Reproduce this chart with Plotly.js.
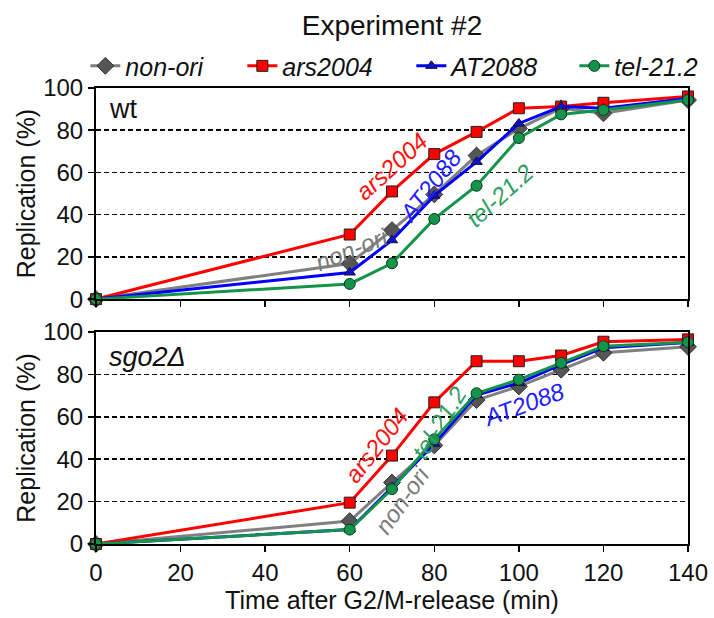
<!DOCTYPE html>
<html>
<head>
<meta charset="utf-8">
<script src="https://cdn.plot.ly/plotly-3.0.1.min.js"></script>
<style>html,body{margin:0;padding:0;background:#fff;}#chart{width:714px;height:618px;}</style>
</head>
<body>
<div id="chart"></div>
<script>
// Data
var time = [0, 60, 70, 80, 90, 100, 110, 120, 140];
var seriesNames = ["non-ori", "ars2004", "AT2088", "tel-21.2"];
var wtNonOri = [0, 16.9, 32.7, 49.6, 68.0, 80.8, 90.4, 88.0, 94.3];
var wtArs2004 = [0, 30.6, 51.0, 68.7, 79.2, 90.4, 91.2, 93.0, 96.0];
var wtAT2088 = [0, 12.6, 27.9, 49.0, 65.0, 83.2, 91.2, 90.4, 95.0];
var wtTel212 = [0, 7.2, 17.0, 38.0, 53.7, 76.3, 87.5, 89.6, 94.3];
var sgoNonOri = [0, 10.8, 29.0, 46.5, 67.9, 74.3, 82.2, 90.2, 93.0];
var sgoArs2004 = [0, 19.5, 41.7, 66.8, 86.2, 86.2, 88.9, 95.4, 96.5];
var sgoAT2088 = [0, 6.8, 26.7, 47.3, 70.3, 75.9, 84.6, 92.5, 95.0];
var sgoTel212 = [0, 6.8, 25.9, 49.4, 71.1, 77.5, 85.4, 93.3, 95.2];
var xTicks = [0, 20, 40, 60, 80, 100, 120, 140];
var yTicks = [0, 20, 40, 60, 80, 100];

var styles = [
  {line: '#808080', marker: {symbol: 'diamond', size: 13, color: '#555555', line: {color: '#333333', width: 1}}, text: '#7a7a7a', lw: 112},
  {line: '#ff0000', marker: {symbol: 'square', size: 11, color: '#ff0000', line: {color: '#222222', width: 1}}, text: '#ff1010', lw: 124},
  {line: '#0000ff', marker: {symbol: 'triangle-up', size: 10, color: '#1010d0', line: {color: '#111133', width: 1}}, text: '#2020ff', lw: 118},
  {line: '#14944a', marker: {symbol: 'circle', size: 11, color: '#14944a', line: {color: '#0b3b1e', width: 1}}, text: '#2f9e62', lw: 88}
];
var wtData = [wtNonOri, wtArs2004, wtAT2088, wtTel212];
var sgoData = [sgoNonOri, sgoArs2004, sgoAT2088, sgoTel212];

var FONT = 'Liberation Sans, Arial, sans-serif';
var traces = [];
[[wtData, 'x2', 'y', true], [sgoData, 'x', 'y2', false]].forEach(function (panel) {
  panel[0].forEach(function (vals, i) {
    var s = styles[i];
    traces.push({
      x: time, y: vals, xaxis: panel[1], yaxis: panel[2],
      type: 'scatter', mode: 'lines+markers', name: seriesNames[i],
      showlegend: panel[3], legendwidth: s.lw, cliponaxis: false,
      line: {color: s.line, width: 3},
      marker: s.marker, hoverinfo: 'skip'
    });
  });
});

function label(text, x, y, xr, yr, angle, color) {
  return {text: text, x: x, y: y, xref: xr, yref: yr, showarrow: false,
    textangle: angle, font: {family: FONT, size: 24, color: color, style: 'italic'}};
}

var annotations = [
  label('ars2004', 69.8, 63, 'x2', 'y', -42, styles[1].text),
  label('AT2088', 79.1, 53.7, 'x2', 'y', -52, styles[2].text),
  label('non-ori', 60.4, 23.4, 'x2', 'y', -22, styles[0].text),
  label('tel-21.2', 95.5, 48.9, 'x2', 'y', -42, styles[3].text),
  label('ars2004', 66.3, 46.5, 'x', 'y2', -52, styles[1].text),
  label('tel-21.2', 81, 57, 'x', 'y2', -58, styles[3].text),
  label('non-ori', 72.4, 20.3, 'x', 'y2', -55, styles[0].text),
  label('AT2088', 101.1, 66, 'x', 'y2', -20, styles[2].text),
  {text: 'wt', x: 0.018, y: 0.953, xref: 'paper', yref: 'paper', xanchor: 'left', yanchor: 'middle', showarrow: false,
    font: {family: FONT, size: 27, color: '#111'}},
  {text: 'sgo2Δ', x: 0.018, y: 0.411, xref: 'paper', yref: 'paper', xanchor: 'left', yanchor: 'middle', showarrow: false,
    font: {family: FONT, size: 27, color: '#111', style: 'italic'}}
];

var yCommon = {
  range: [0, 100], tickvals: yTicks, ticks: 'outside', ticklen: 6, tickwidth: 1.5, tickcolor: '#000',
  showline: true, linecolor: '#000', linewidth: 2, mirror: true,
  showgrid: true, gridcolor: '#000', gridwidth: 1.5, griddash: '5px,3px',
  zeroline: false, tickfont: {family: FONT, size: 24, color: '#111'},
  title: {text: 'Replication (%)', font: {family: FONT, size: 25, color: '#111'}, standoff: 0},
  fixedrange: true
};
var xCommon = {
  range: [0, 140], tickvals: xTicks, ticks: 'outside', ticklen: 6, tickwidth: 1.5, tickcolor: '#000',
  showline: true, linecolor: '#000', linewidth: 2, mirror: true, showgrid: false, zeroline: false,
  tickfont: {family: FONT, size: 24, color: '#111'}, fixedrange: true
};

var layout = {
  width: 714, height: 618,
  margin: {l: 96, r: 26, t: 88, b: 74},
  paper_bgcolor: '#fff', plot_bgcolor: '#fff',
  showlegend: true,
  title: {text: 'Experiment #2', x: 0.5, xref: 'paper', y: 0.96, yref: 'container', yanchor: 'middle',
    font: {family: FONT, size: 28, color: '#111'}},
  legend: {orientation: 'h', x: -0.018, xanchor: 'left', y: 1.048, yanchor: 'middle',
    font: {family: FONT, size: 25, color: '#111', style: 'italic'}, bgcolor: 'rgba(0,0,0,0)', traceorder: 'normal'},
  xaxis: Object.assign({}, xCommon, {anchor: 'y2', domain: [0, 1],
    title: {text: 'Time after G2/M-release (min)', font: {family: FONT, size: 25, color: '#111'}, standoff: 4}}),
  xaxis2: Object.assign({}, xCommon, {anchor: 'y', domain: [0, 1], matches: 'x', showticklabels: false}),
  yaxis: Object.assign({}, yCommon, {anchor: 'x2', domain: [0.537, 1]}),
  yaxis2: Object.assign({}, yCommon, {anchor: 'x', domain: [0, 0.465]}),
  annotations: annotations
};

Plotly.newPlot('chart', traces, layout, {displayModeBar: false, staticPlot: true});
</script>
</body>
</html>
